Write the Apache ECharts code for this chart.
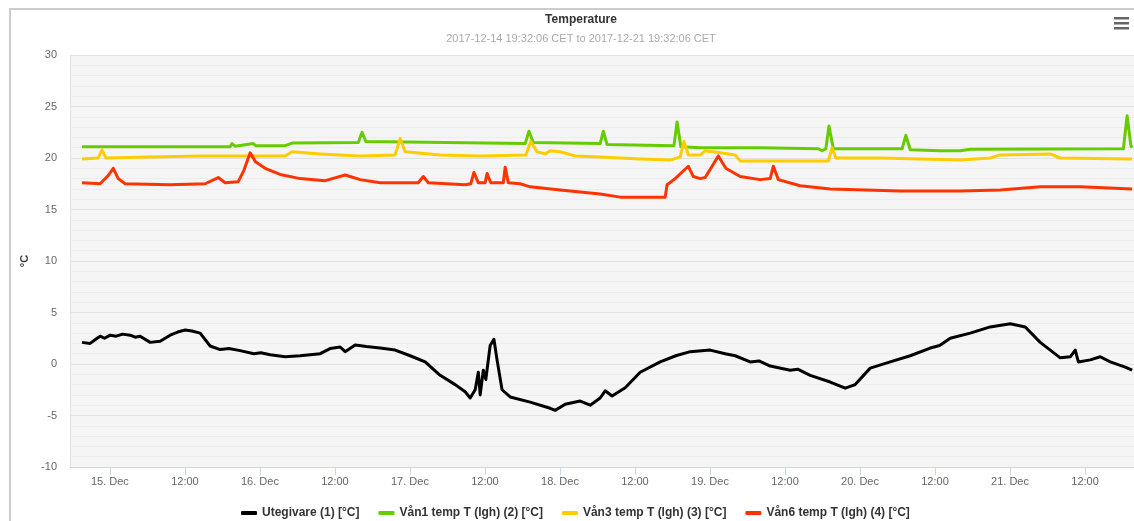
<!DOCTYPE html>
<html>
<head>
<meta charset="utf-8">
<script src="https://cdn.jsdelivr.net/npm/echarts@6/dist/echarts.min.js"></script>
<style>
html,body{margin:0;padding:0;background:#fff;}
#chart{width:1134px;height:521px;}
</style>
</head>
<body>
<div id="chart"></div>
<script>
// Time axis: hours after 2017-12-14 19:32:06
const titleText = 'Temperature';
const subtitleText = '2017-12-14 19:32:06 CET to 2017-12-21 19:32:06 CET';
const seriesNames = ['Utegivare (1) [°C]', 'Vån1 temp T (lgh) (2) [°C]', 'Vån3 temp T (lgh) (3) [°C]', 'Vån6 temp T (lgh) (4) [°C]'];
const seriesColors = ['#000000', '#66cc00', '#ffcc00', '#ff3300'];
const yName = '°C';

// [hours since start, value]
const utegivare = [
  [0,2.1],[1.3,2.0],[2.2,2.4],[2.9,2.7],[3.6,2.5],[4.5,2.8],[5.5,2.7],[6.5,2.9],[7.7,2.8],[8.5,2.6],[9.3,2.7],[10.9,2.1],[12.5,2.2],[14.1,2.8],
  [15.3,3.1],[16.5,3.3],[17.6,3.2],[18.9,3.0],[20.5,1.75],[22.1,1.4],[23.5,1.5],[25.3,1.3],[27.5,1.0],[28.6,1.1],[30.1,0.9],[32.5,0.7],[34.9,0.8],[38.1,1.0],
  [39.7,1.5],[41.3,1.65],[42.1,1.2],[43.7,1.85],[45.5,1.7],[47.7,1.55],[50.1,1.35],[52.5,0.8],[54.9,0.2],
  [57.3,-1.1],[59.7,-2.0],[61.3,-2.7],[62.1,-3.3],[62.9,-2.5],[63.4,-0.8],[63.7,-3.0],[64.2,-0.6],[64.6,-1.5],
  [65.3,1.8],[65.9,2.4],[66.4,0.4],[67.2,-2.5],[68.5,-3.2],[71.7,-3.7],[74.9,-4.3],[75.7,-4.5],[77.3,-3.9],
  [79.7,-3.6],[81.3,-4.0],[82.9,-3.3],[83.7,-2.6],[84.8,-3.1],[86.9,-2.3],[89.3,-0.8],[92.5,0.2],[95.0,0.8],[97.3,1.2],
  [100.5,1.35],[102.9,1.0],[104.5,0.8],[106.9,0.2],[108.3,0.3],[110.1,-0.2],[113.3,-0.6],[114.5,-0.5],[116.5,-1.1],[119.7,-1.75],[122.1,-2.35],
  [123.7,-2.0],[126.1,-0.4],[129.3,0.2],[132.5,0.8],[135.7,1.55],[137.2,1.8],[138.9,2.5],[142.1,3.0],[145.3,3.6],[148.5,3.9],
  [150.9,3.6],[153.3,2.1],[156.5,0.6],[158.1,0.7],[158.9,1.35],[159.4,0.2],[161.3,0.4],[162.9,0.7],[164.5,0.2],
  [166.9,-0.3],[168,-0.6]
];
const van1 = [
  [0,21.1],[23.7,21.1],[24.0,21.4],[24.5,21.15],[27.4,21.4],[27.8,21.2],[32.5,21.2],[33.6,21.45],[44.2,21.5],
  [44.8,22.5],[45.4,21.6],[70.9,21.4],[71.5,22.6],[72.2,21.5],[82.9,21.4],[83.4,22.6],[84.0,21.3],[94.7,21.2],
  [95.2,23.5],[95.8,21.1],[98.9,21.0],[108.5,21.0],[117.8,20.9],[118.4,20.7],[119.0,20.9],[119.5,23.1],[120.2,20.9],
  [131.2,20.9],[131.8,22.2],[132.5,20.8],[137.3,20.7],[140.5,20.7],[142.1,20.85],[166.6,20.9],[167.2,24.1],
  [167.8,21.2],[168,21.0]
];
const van3 = [
  [0,19.9],[2.6,20.0],[3.2,20.8],[3.8,20.0],[10.9,20.1],[18.9,20.2],[32.5,20.2],[33.6,20.6],[38.1,20.4],[44.5,20.2],
  [50.1,20.3],[50.9,21.9],[51.7,20.6],[57.3,20.3],[63.7,20.2],[71.0,20.3],[71.8,21.6],[72.8,20.6],[74.1,20.4],
  [74.9,20.7],[76.5,20.6],[78.9,20.2],[82.9,20.1],[89.3,19.9],[94.1,19.8],[95.7,20.1],[96.3,21.6],[97.0,20.3],
  [98.9,20.3],[99.7,20.7],[102.1,20.5],[104.5,20.3],[105.3,19.7],[108.5,19.7],[119.4,19.7],[120.0,21.0],
  [120.6,20.0],[127.7,20.0],[134.1,19.9],[140.5,19.8],[145.3,20.0],[146.9,20.3],[154.9,20.4],[156.5,20.0],[168,19.9]
];
const van6 = [
  [0,17.6],[2.9,17.5],[4.2,18.3],[5.0,19.0],[5.8,18.0],[6.9,17.5],[14.1,17.4],[19.7,17.5],[21.8,18.1],[22.9,17.6],
  [25.0,17.7],[25.9,18.8],[26.9,20.5],[27.8,19.6],[29.3,19.0],[31.7,18.4],[34.9,18.0],[38.9,17.8],[42.1,18.35],
  [44.5,17.9],[47.7,17.6],[53.8,17.6],[54.6,18.2],[55.4,17.6],[61.3,17.4],[62.2,17.5],[62.7,18.6],[63.4,17.6],
  [64.5,17.6],[64.8,18.5],[65.4,17.6],[67.4,17.6],[67.7,19.1],[68.2,17.6],[70.1,17.5],[71.7,17.2],[76.5,16.9],
  [82.9,16.5],[86.1,16.2],[93.3,16.2],[93.6,17.4],[94.9,18.0],[97.0,19.2],[97.8,18.2],[98.9,18.0],[99.7,18.1],
  [101.8,20.2],[103.0,19.0],[105.3,18.2],[108.5,17.9],[110.1,18.0],[110.6,19.2],[111.4,17.9],[114.9,17.3],
  [119.7,17.0],[130.9,16.8],[140.5,16.8],[146.9,16.9],[153.3,17.2],[159.7,17.2],[168,17.0]
];
const allSeries = [utegivare, van1, van3, van6];

const HOUR = 3600 * 1000;
const start = new Date(2017, 11, 14, 19, 32, 6).getTime();
const toTime = arr => arr.map(p => [start + p[0] * HOUR, p[1]]);

const chart = echarts.init(document.getElementById('chart'), null, {renderer: 'canvas'});
const FONT = '"Liberation Sans", Arial, sans-serif';

chart.setOption({
  animation: false,
  backgroundColor: '#ffffff',
  textStyle: {fontFamily: FONT},
  title: {
    text: titleText,
    subtext: subtitleText,
    left: 576, top: 9, textAlign: 'center',
    itemGap: 7,
    textStyle: {fontSize: 12, fontWeight: 'bold', color: '#333333', fontFamily: FONT},
    subtextStyle: {fontSize: 11, color: '#aaaaaa', fontFamily: FONT}
  },
  legend: {
    top: 502, left: 236,
    icon: 'roundRect', itemWidth: 16, itemHeight: 4, itemGap: 19,
    textStyle: {fontSize: 12, fontWeight: 'bold', color: '#333333', fontFamily: FONT},
    data: seriesNames
  },
  grid: {
    left: 70, right: 0, top: 55, bottom: 54,
    show: true, backgroundColor: '#f5f5f5', borderWidth: 0
  },
  xAxis: {
    type: 'time',
    min: start - 1.92 * HOUR,
    max: start + 168.3 * HOUR,
    splitNumber: 14,
    axisLine: {show: true, onZero: false, lineStyle: {color: '#ccd6eb'}},
    axisTick: {show: true, length: 8, lineStyle: {color: '#ccd6eb'}},
    splitLine: {show: false},
    axisLabel: {
      color: '#666666', fontSize: 11, margin: 9,
      showMinLabel: false, showMaxLabel: false,
      formatter: function (v) {
        const d = new Date(v);
        if (d.getHours() === 0) return d.getDate() + '. Dec';
        return String(d.getHours()).padStart(2, '0') + ':' + String(d.getMinutes()).padStart(2, '0');
      }
    }
  },
  yAxis: {
    type: 'value',
    min: -10, max: 30, interval: 5,
    name: yName, nameLocation: 'middle', nameGap: 36, nameRotate: 90,
    nameTextStyle: {color: '#333333', fontSize: 11, fontWeight: 'bold'},
    axisLine: {show: true, lineStyle: {color: '#dde3ee'}},
    axisTick: {show: false},
    axisLabel: {color: '#666666', fontSize: 11, margin: 13},
    splitLine: {show: true, lineStyle: {color: '#e2e2e2', width: 1}},
    minorTick: {show: false, splitNumber: 5},
    minorSplitLine: {show: true, lineStyle: {color: '#ededed', width: 1}}
  },
  series: allSeries.map((arr, i) => ({
    name: seriesNames[i],
    type: 'line',
    data: toTime(arr),
    showSymbol: false,
    symbol: 'none',
    color: seriesColors[i],
    lineStyle: {width: 3, color: seriesColors[i], join: 'round'},
    z: 2 + i
  })),
  graphic: [
    {type: 'rect', shape: {x: 10, y: 9, width: 1200, height: 600}, style: {fill: 'none', stroke: '#cccccc', lineWidth: 2}, silent: true, z: 100},
    {type: 'rect', shape: {x: 1114, y: 17, width: 15, height: 2.5}, style: {fill: '#666666'}, z: 100},
    {type: 'rect', shape: {x: 1114, y: 22, width: 15, height: 2.5}, style: {fill: '#666666'}, z: 100},
    {type: 'rect', shape: {x: 1114, y: 27, width: 15, height: 2.5}, style: {fill: '#666666'}, z: 100}
  ]
});
</script>
</body>
</html>
